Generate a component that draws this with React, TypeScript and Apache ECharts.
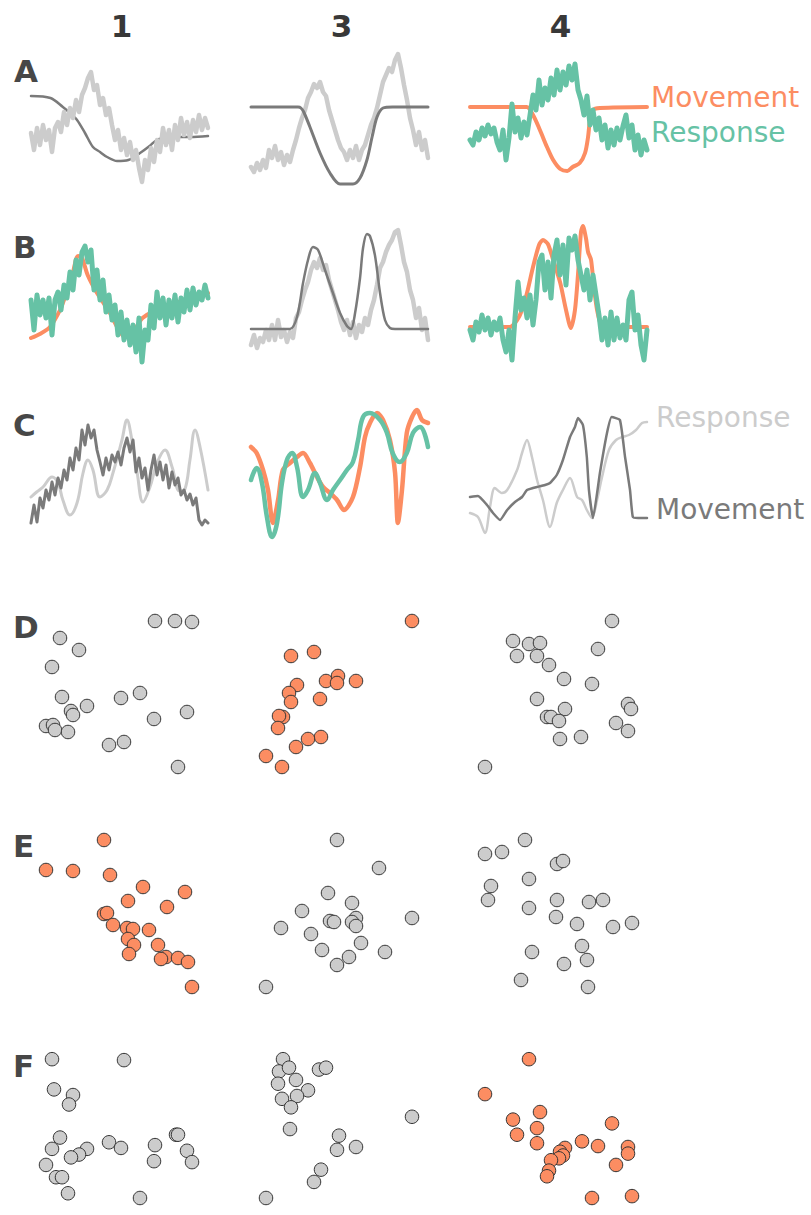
import { useEffect, useRef } from "react";
import * as echarts from "echarts";

// ---- labels ----
const COLUMN_TITLES = ["1", "3", "4"];
const ROW_LABELS = ["A", "B", "C", "D", "E", "F"];
const TOP_LEGEND = ["Movement", "Response"];
const MID_LEGEND = ["Response", "Movement"];

// ---- colours ----
const ORANGE = "#fc8d62";
const GREEN = "#66c2a5";
const LIGHT = "#cccccc";
const DARK = "#7a7a7a";

// ---- row A: traces (noisy traces are evenly sampled, smooth ones are [t, value]) ----
const A1_response = [57,40,62,45,65,50,60,38,62,68,58,78,65,82,72,90,78,95,102,112,118,100,105,85,92,75,82,65,50,60,40,52,35,48,30,40,22,8,30,20,42,28,50,38,62,45,60,40,65,50,72,55,68,52,70,58,75,60,72,62];
const A1_movement = [[0,94],[11,92],[18,83],[22,77],[26,70],[30.5,57],[35,43],[39,38],[43,33],[48.6,29],[55,30],[61.6,37],[67,44],[71,50],[76,52],[80,53],[90,53],[100,54]];
const A3_response = [23,18,27,20,30,22,40,32,44,30,38,25,35,28,40,50,62,72,80,92,98,106,102,108,98,94,80,70,60,50,42,38,30,40,32,44,30,40,45,55,65,72,82,95,108,115,122,118,130,136,122,105,90,72,60,45,58,40,50,32];
const A3_movement = [[0,83],[26.6,83],[28.2,82],[29.8,78],[33.3,63],[39,37],[44.6,17],[50.3,6],[57.6,6],[61.6,12],[65.5,30],[68.4,53],[71.2,73],[74.6,82],[80,83],[100,83]];
const A4_movement = [[0,83],[32,83],[35.6,75],[39.5,60],[43.5,43],[47,30],[51,21],[55,19],[58,23],[62,27],[65,37],[66.7,53],[67.8,70],[69.5,80],[73.4,82],[100,83]];
const A4_response = [50,45,58,50,62,54,65,56,62,48,40,60,30,52,86,58,72,52,68,55,75,95,80,110,85,102,90,112,95,120,100,118,105,124,110,126,100,90,75,94,65,80,60,72,50,65,42,60,45,62,50,64,75,52,65,40,55,35,50,40];

// ---- row B ----
const B1_movement = [[0,27],[5,31],[10.7,38],[16.4,55],[20,72],[23.7,93],[26.6,109],[28.8,107],[32,90],[37.3,72],[44.6,52],[49,37],[53,28],[57.6,33],[63,47],[71,55],[78.5,60],[87,65],[100,72]];
const B1_response = [65,35,70,50,65,47,67,30,65,73,55,80,67,93,75,105,90,113,119,103,115,75,95,65,85,53,70,45,60,30,53,25,45,20,40,13,47,3,35,25,60,37,73,47,67,40,65,47,70,43,67,53,75,55,77,60,73,65,80,67];
const B3_movement = [[0,36],[22,36],[26,48],[29.4,82],[32.2,105],[35,118],[37.9,115],[41.8,95],[46.3,72],[50.3,52],[54.2,39],[56.5,36],[58.8,52],[61.6,87],[63.3,117],[65.5,131],[67.2,129],[70,110],[72.9,72],[75.7,45],[78.5,37],[81.4,36],[100,36]];
const B3_response = [20,30,17,27,23,35,25,40,25,45,28,35,23,33,27,47,53,65,75,83,95,103,97,107,95,100,85,75,65,55,43,35,45,30,43,27,40,33,47,40,55,65,80,97,103,113,120,125,133,135,120,103,93,75,65,47,57,35,47,25];
const B4_movement = [[0,38],[22.6,38],[26.6,45],[29.4,55],[32.2,72],[35.6,98],[39,120],[41.2,125],[44,121],[47,105],[51,82],[54,57],[57,37],[59.3,55],[61,90],[62.7,133],[63.8,139],[65.5,127],[66.7,113],[68.4,105],[70,78],[71.8,55],[74,41],[77.4,38],[100,38]];
const B4_response = [35,25,43,33,50,35,47,30,43,35,47,25,13,35,5,47,83,55,67,47,70,40,65,103,110,75,103,67,110,125,90,120,80,127,115,129,105,90,75,95,65,90,70,50,25,47,20,53,25,47,27,40,25,65,73,35,50,20,5,35];

// ---- row C ----
const C1_movement = [22,40,23,47,37,55,45,63,50,67,57,75,65,87,75,97,85,115,100,120,107,115,95,83,70,87,75,90,83,93,80,97,107,93,105,73,87,67,77,55,75,90,70,83,65,80,57,73,60,67,50,55,45,51,40,47,25,20,25,22];
const C1_response = [[0,48],[3.2,53],[6.8,58],[11.9,68],[15.3,62],[18,45],[22,30],[26,42],[29.4,72],[32.2,85],[35,75],[39,48],[43,55],[46.3,72],[51.4,105],[54.2,125],[57,105],[60,72],[63.3,43],[67.2,58],[71.2,82],[75.7,95],[79.7,78],[84,54],[87,56],[89.8,85],[92.7,115],[95.5,98],[100,55]];
const C3_movement = [[0,98],[3.2,92],[6.8,75],[9.6,55],[12.4,22],[15.3,45],[18,75],[22,82],[26,88],[29.4,92],[33.3,82],[37.3,68],[40.7,58],[44.6,52],[48.6,45],[52.5,35],[57.6,48],[61.6,78],[64.4,108],[67.2,122],[71.2,132],[74.6,125],[78.5,105],[81.4,72],[83,22],[85.3,55],[88,112],[91,128],[93.8,135],[96.6,125],[100,122]];
const C3_response = [[0,65],[3.2,77],[6.2,62],[9,28],[11.9,8],[14.7,22],[17.5,62],[20.3,85],[23.2,92],[26,78],[29.4,48],[32.2,55],[36.2,72],[39,62],[43,45],[46.3,55],[50.3,65],[54.2,75],[57.6,83],[60.5,105],[63.3,128],[67.2,132],[72.9,125],[76.8,112],[80,92],[84,83],[88,92],[91.5,112],[95.5,118],[100,98]];
const C4_movement = [[0,48],[4.5,49],[9.6,40],[13,32],[17,25],[21,35],[25.4,43],[29.4,48],[32.2,55],[35.6,57],[37.9,58],[42.4,60],[45.2,62],[49,70],[52.5,85],[56.5,108],[59.3,118],[61,127],[63.8,120],[66,88],[67.2,55],[69.5,27],[73.4,72],[77.4,112],[80,128],[84.7,125],[87.6,88],[90.4,55],[92,28],[95,27],[100,27]];
const C4_response = [[0,32],[4.5,28],[8.5,12],[11.3,38],[14,57],[18,52],[21,55],[26.6,75],[29.4,92],[32.2,105],[35,88],[37.9,65],[41.2,45],[45.2,18],[49,42],[52.5,55],[56.5,67],[60.5,48],[63.3,45],[66,35],[68.9,27],[71.8,45],[74.6,68],[78.5,95],[82.5,105],[85.9,108],[89.8,110],[93.8,115],[97.2,122],[100,123]];

// ---- rows D-F: scatter points [x, y] ----
const D1 = [[124,164],[144,164],[161,163],[29,147],[48,135],[21,118],[31,88],[56,79],[40,74],[42,70],[90,87],[109,92],[123,66],[156,73],[15,59],[22,60],[24,55],[37,53],[78,40],[93,43],[147,18]];
const D3 = [[161,164],[40,129],[63,133],[46,100],[75,104],[87,109],[86,102],[105,104],[38,92],[40,83],[69,86],[32,68],[28,69],[27,57],[70,48],[57,46],[45,38],[15,29],[31,18]];
const D4 = [[142,164],[43,144],[59,141],[70,142],[47,129],[67,129],[79,120],[128,136],[94,106],[122,101],[67,86],[95,76],[77,68],[81,68],[89,64],[158,81],[161,76],[146,62],[158,54],[90,46],[111,48],[15,18]];
const E1 = [[73,165],[15,135],[42,134],[79,130],[112,118],[154,113],[97,104],[136,98],[73,91],[76,92],[82,80],[96,77],[102,76],[118,75],[97,66],[103,60],[127,60],[98,51],[135,48],[130,46],[147,47],[157,43],[161,18]];
const E3 = [[86,165],[128,137],[77,112],[101,102],[51,94],[79,84],[83,83],[105,87],[101,83],[105,79],[161,87],[30,77],[60,71],[110,62],[71,55],[134,53],[98,48],[86,40],[15,18]];
const E4 = [[55,165],[15,151],[32,153],[87,141],[93,144],[21,119],[59,126],[18,105],[59,97],[87,105],[119,103],[133,105],[86,88],[107,81],[143,78],[162,82],[112,59],[62,53],[117,45],[94,41],[51,25],[118,18]];
const F1 = [[21,165],[93,164],[23,133],[42,127],[38,117],[29,82],[21,70],[56,70],[48,64],[40,61],[78,77],[90,71],[124,74],[123,57],[145,85],[147,85],[156,68],[161,56],[15,53],[25,40],[31,40],[37,23],[109,18]];
const F3 = [[32,165],[28,152],[38,156],[68,154],[75,156],[45,143],[27,139],[57,132],[46,126],[31,123],[40,114],[161,104],[39,91],[88,84],[86,69],[105,72],[70,48],[63,35],[15,18]];
const F4 = [[59,165],[15,128],[70,109],[43,101],[142,97],[67,92],[47,85],[67,76],[112,78],[128,73],[158,72],[158,65],[95,71],[90,67],[93,63],[89,60],[81,58],[146,53],[79,47],[77,41],[122,18],[162,20]];

// ---- layout ----
const COL_LEFT = [31, 251, 470];
const PANEL_W = 177;
const LINE_TOP = [50, 225, 405];
const LINE_H = 140;
const SCAT_TOP = [605, 825, 1045];
const SCAT_H = 180;
const FONT = '"DejaVu Sans", "Noto Sans", sans-serif';

type Trace = { data: number[] | number[][]; color: string; width: number; smooth?: number };

const lineRows: Trace[][][] = [
  [
    [{ data: A1_movement, color: DARK, width: 2.5, smooth: 0.3 }, { data: A1_response, color: LIGHT, width: 4.5 }],
    [{ data: A3_response, color: LIGHT, width: 4.5 }, { data: A3_movement, color: DARK, width: 3, smooth: 0.3 }],
    [{ data: A4_movement, color: ORANGE, width: 4, smooth: 0.3 }, { data: A4_response, color: GREEN, width: 5 }],
  ],
  [
    [{ data: B1_movement, color: ORANGE, width: 4, smooth: 0.3 }, { data: B1_response, color: GREEN, width: 5 }],
    [{ data: B3_response, color: LIGHT, width: 4.5 }, { data: B3_movement, color: DARK, width: 2.5, smooth: 0.3 }],
    [{ data: B4_movement, color: ORANGE, width: 4, smooth: 0.25 }, { data: B4_response, color: GREEN, width: 5 }],
  ],
  [
    [{ data: C1_response, color: LIGHT, width: 3, smooth: 0.4 }, { data: C1_movement, color: DARK, width: 3 }],
    [{ data: C3_movement, color: ORANGE, width: 4.5, smooth: 0.3 }, { data: C3_response, color: GREEN, width: 4.5, smooth: 0.4 }],
    [{ data: C4_response, color: LIGHT, width: 2.5, smooth: 0.3 }, { data: C4_movement, color: DARK, width: 2.5, smooth: 0.15 }],
  ],
];

const scatterRows: { data: number[][]; color: string }[][] = [
  [{ data: D1, color: LIGHT }, { data: D3, color: ORANGE }, { data: D4, color: LIGHT }],
  [{ data: E1, color: ORANGE }, { data: E3, color: LIGHT }, { data: E4, color: LIGHT }],
  [{ data: F1, color: LIGHT }, { data: F3, color: LIGHT }, { data: F4, color: ORANGE }],
];

function toPairs(d: number[] | number[][]): number[][] {
  if (d.length && Array.isArray(d[0])) return d as number[][];
  const v = d as number[];
  return v.map((y, i) => [(i * 100) / (v.length - 1), y]);
}

function buildOption() {
  const grid: any[] = [];
  const xAxis: any[] = [];
  const yAxis: any[] = [];
  const series: any[] = [];
  let idx = 0;

  lineRows.forEach((row, r) => {
    row.forEach((traces, c) => {
      grid.push({ left: COL_LEFT[c], top: LINE_TOP[r], width: PANEL_W, height: LINE_H });
      xAxis.push({ gridIndex: idx, type: "value", min: 0, max: 100, show: false });
      yAxis.push({ gridIndex: idx, type: "value", min: 0, max: 140, show: false });
      traces.forEach((t) => {
        series.push({
          type: "line",
          xAxisIndex: idx,
          yAxisIndex: idx,
          data: toPairs(t.data),
          showSymbol: false,
          symbol: "none",
          smooth: t.smooth ?? false,
          clip: false,
          silent: true,
          lineStyle: { color: t.color, width: t.width, cap: "round", join: "round" },
        });
      });
      idx++;
    });
  });

  scatterRows.forEach((row, r) => {
    row.forEach((s, c) => {
      grid.push({ left: COL_LEFT[c], top: SCAT_TOP[r], width: PANEL_W, height: SCAT_H });
      xAxis.push({ gridIndex: idx, type: "value", min: 0, max: 177, show: false });
      yAxis.push({ gridIndex: idx, type: "value", min: 0, max: 180, show: false });
      series.push({
        type: "scatter",
        xAxisIndex: idx,
        yAxisIndex: idx,
        data: s.data,
        symbol: "circle",
        symbolSize: 13.5,
        clip: false,
        silent: true,
        itemStyle: { color: s.color, borderColor: "#333333", borderWidth: 1, opacity: 1 },
      });
      idx++;
    });
  });

  const text = (str: string, x: number, y: number, font: string, fill: string, align = "left") => ({
    type: "text",
    x,
    y,
    silent: true,
    style: {
      text: str,
      font,
      fill,
      textAlign: align,
      align,
      textVerticalAlign: "middle",
      verticalAlign: "middle",
    },
  });

  const rowLabelY = [71, 247, 424.5, 626.5, 846, 1066];
  const graphic: any[] = [
    ...COLUMN_TITLES.map((t, i) =>
      text(t, COL_LEFT[i] + PANEL_W / 2 + 2, 26, `bold 31px ${FONT}`, "#383838", "center")
    ),
    ...ROW_LABELS.map((t, i) => text(t, i === 0 ? 14 : 13, rowLabelY[i], `bold 31px ${FONT}`, "#474747")),
    text(TOP_LEGEND[0], 651, 97.5, `28px ${FONT}`, ORANGE),
    text(TOP_LEGEND[1], 651, 132.5, `28px ${FONT}`, GREEN),
    text(MID_LEGEND[0], 656, 417, `28px ${FONT}`, LIGHT),
    text(MID_LEGEND[1], 656, 509, `28px ${FONT}`, DARK),
  ];

  return {
    animation: false,
    backgroundColor: "#ffffff",
    grid,
    xAxis,
    yAxis,
    series,
    graphic,
  };
}

export default function App() {
  const ref = useRef<HTMLDivElement>(null);
  useEffect(() => {
    if (!ref.current) return;
    const chart = echarts.init(ref.current, undefined, { renderer: "svg" });
    chart.setOption(buildOption() as any);
    return () => chart.dispose();
  }, []);
  return (
    <div
      ref={ref}
      style={{ position: "absolute", left: 0, top: 0, width: 811, height: 1215, background: "#fff" }}
    />
  );
}
